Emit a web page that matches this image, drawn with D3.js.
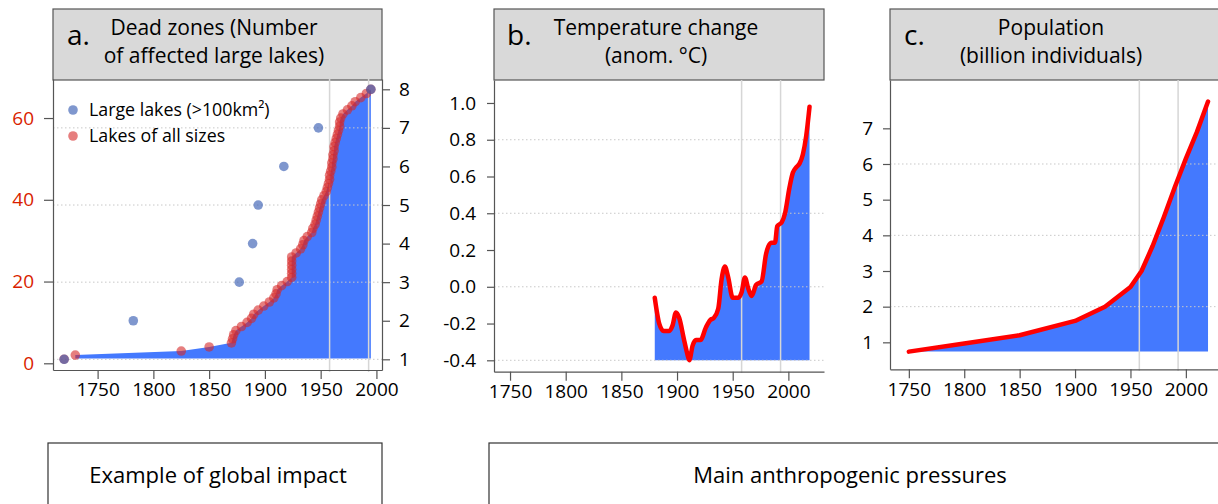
<!DOCTYPE html>
<html>
<head>
<meta charset="UTF-8">
<title>Dead zones and pressures</title>
<style>
  body { margin: 0; background: #fff; }
  svg { display: block; font-family: "Open Sans", Lato, sans-serif; }
</style>
</head>
<body>
<script src="https://cdn.jsdelivr.net/npm/d3@7"></script>
<script>
const width = 1218
const height = 504

// a. dead zones - large lakes (right axis)
const largeYears = [1720, 1782, 1877, 1889, 1894, 1917, 1948, 1995]
const largeCounts = [1, 2, 3, 4, 5, 6, 7, 8]

// a. dead zones - lakes of all sizes (left axis)
const allYears = [1720, 1730, 1825, 1850, 1870, 1871, 1872, 1874, 1879, 1884,
  1888, 1890, 1894, 1899, 1904, 1908, 1910, 1911, 1915, 1920,
  1924, 1924, 1924, 1924, 1924, 1924, 1928, 1932, 1934, 1935,
  1938, 1942, 1943, 1945, 1946, 1947, 1948, 1949, 1950, 1951,
  1953, 1955, 1956, 1957, 1958, 1958, 1959, 1960, 1960, 1961,
  1961, 1962, 1962, 1963, 1964, 1965, 1966, 1967, 1967, 1968,
  1970, 1974, 1978, 1981, 1986, 1991, 1995]
const allCounts = [1, 2, 3, 4, 5, 6, 7, 8, 9, 10,
  11, 12, 13, 14, 15, 16, 17, 18, 19, 20,
  21, 22, 23, 24, 25, 26, 27, 28, 29, 30,
  31, 32, 33, 34, 35, 36, 37, 38, 39, 40,
  41, 42, 43, 44, 45, 46, 47, 48, 49, 50,
  51, 52, 53, 54, 55, 56, 57, 58, 59, 60,
  61, 62, 63, 64, 65, 66, 67]

// b. temperature anomaly
const tempYears = [1880, 1884, 1888, 1893, 1896, 1899, 1902, 1906, 1909, 1911,
  1914, 1917, 1921, 1926, 1930, 1933, 1937, 1940, 1943, 1946,
  1950, 1955, 1958, 1961, 1964, 1967, 1971, 1976, 1980, 1982,
  1985, 1988, 1990, 1994, 1997, 2001, 2004, 2007, 2010, 2013,
  2016, 2019]
const tempValues = [-0.06, -0.20, -0.24, -0.24, -0.21, -0.14, -0.17, -0.28, -0.36, -0.40,
  -0.32, -0.29, -0.29, -0.22, -0.18, -0.17, -0.12, 0.04, 0.11, 0.05,
  -0.06, -0.06, -0.03, 0.05, -0.01, -0.05, 0.01, 0.03, 0.18, 0.22,
  0.24, 0.24, 0.33, 0.35, 0.40, 0.54, 0.62, 0.65, 0.67, 0.72,
  0.82, 0.98]

// c. population (billion)
const popYears = [1750, 1800, 1850, 1900, 1927, 1950, 1960, 1970, 1975, 1980, 1990, 2000, 2010, 2020]
const popValues = [0.74, 0.97, 1.2, 1.6, 2.0, 2.55, 3.0, 3.7, 4.1, 4.5, 5.35, 6.15, 6.9, 7.75]

const yearTicks = [1750, 1800, 1850, 1900, 1950, 2000]
const deadLeftTicks = [0, 20, 40, 60]
const deadRightTicks = [1, 2, 3, 4, 5, 6, 7, 8]
const tempTicks = [-0.4, -0.2, 0, 0.2, 0.4, 0.6, 0.8, 1.0]
const popTicks = [1, 2, 3, 4, 5, 6, 7]
const markYears = [1958, 1993]

const blue = '#4479fe'
const red = '#ff0000'
const font = '"Open Sans", Lato, sans-serif'

let svg = d3.select('body').append('svg')
  .attr('width', width)
  .attr('height', height)

// grey title box on top of each panel
function header(x0, x1, letter, letterX, lines, cx) {
  svg.append('rect')
    .attr('x', x0).attr('y', 9)
    .attr('width', x1 - x0).attr('height', 71)
    .attr('fill', '#d9d9d9').attr('stroke', '#555').attr('stroke-width', 1.2)
  svg.append('text').attr('x', letterX).attr('y', 45)
    .attr('font-size', 28).text(letter)
  lines.forEach((t, i) => {
    svg.append('text').attr('x', cx).attr('y', 35 + i * 28)
      .attr('text-anchor', 'middle').attr('font-size', 21).text(t)
  })
}

function styleAxis(g, color) {
  g.selectAll('path, line').attr('stroke', '#555').attr('stroke-width', 1.2)
  g.selectAll('text').attr('font-size', 19).attr('fill', color || '#000')
    .attr('font-family', font)
}

function grid(x0, x1, ys) {
  svg.append('g').selectAll('line').data(ys).enter().append('line')
    .attr('x1', x0).attr('x2', x1)
    .attr('y1', d => d).attr('y2', d => d)
    .attr('stroke', '#c8c8c8').attr('stroke-dasharray', '1.5,2.5')
}

function markLines(x, y0, y1) {
  svg.append('g').selectAll('line').data(markYears).enter().append('line')
    .attr('x1', d => x(d)).attr('x2', d => x(d))
    .attr('y1', y0).attr('y2', y1)
    .attr('stroke', '#d6d6d6').attr('stroke-width', 1.5)
}

// ---------- panel a ----------
let xa = d3.scaleLinear().domain([1710, 2005]).range([53, 382])
let yaL = d3.scaleLinear().domain([-1.64, 69.55]).range([370, 79])
let yaR = d3.scaleLinear().domain([0.723, 8.267]).range([370, 79])

header(53, 382, 'a.', 67, ['Dead zones (Number', 'of affected large lakes)'], 214)

let allPts = allYears.map((y, i) => ({ year: y, n: allCounts[i] }))
let largePts = largeYears.map((y, i) => ({ year: y, n: largeCounts[i] }))

let areaA = d3.area()
  .x(d => xa(d.year))
  .y0(yaL(1.2))
  .y1(d => yaL(d.n))
svg.append('path').datum(allPts.slice(1))
  .attr('d', areaA).attr('fill', blue)

grid(53, 382, [1, 3, 5, 7].map(v => yaR(v)))
markLines(xa, 79, 372)

svg.append('g').attr('transform', 'translate(0,370)')
  .call(d3.axisBottom(xa).tickValues(yearTicks).tickFormat(d3.format('d')).tickSize(9).tickSizeOuter(0).tickPadding(4))
  .call(g => styleAxis(g))
svg.append('g').attr('transform', 'translate(53,0)')
  .call(d3.axisLeft(yaL).tickValues(deadLeftTicks).tickSize(9).tickSizeOuter(0).tickPadding(10))
  .call(g => styleAxis(g, '#d91e00'))
svg.append('g').attr('transform', 'translate(382,0)')
  .call(d3.axisRight(yaR).tickValues(deadRightTicks).tickSize(8).tickSizeOuter(0).tickPadding(9))
  .call(g => styleAxis(g))

svg.append('g').selectAll('circle').data(allPts).enter().append('circle')
  .attr('cx', d => xa(d.year)).attr('cy', d => yaL(d.n)).attr('r', 4.8)
  .attr('fill', 'rgb(214,40,40)').attr('fill-opacity', 0.6)
svg.append('g').selectAll('circle').data(largePts).enter().append('circle')
  .attr('cx', d => xa(d.year)).attr('cy', d => yaR(d.n)).attr('r', 4.8)
  .attr('fill', 'rgb(58,95,180)').attr('fill-opacity', 0.65)

// legend
let legend = [
  { label: 'Large lakes (>100km²)', color: 'rgb(58,95,180)', op: 0.65 },
  { label: 'Lakes of all sizes', color: 'rgb(214,40,40)', op: 0.6 }
]
legend.forEach((d, i) => {
  svg.append('circle').attr('cx', 73).attr('cy', 110 + i * 26).attr('r', 4.8)
    .attr('fill', d.color).attr('fill-opacity', d.op)
  svg.append('text').attr('x', 89).attr('y', 116 + i * 26)
    .attr('font-size', 17.8).text(d.label)
})

// ---------- panel b ----------
let xb = d3.scaleLinear().domain([1735.6, 2032]).range([494, 824])
let yb = d3.scaleLinear().domain([-0.462, 1.125]).range([371.7, 80])

header(494, 824, 'b.', 507, ['Temperature change', '(anom. °C)'], 656)

let tempPts = tempYears.map((y, i) => ({ year: y, v: tempValues[i] }))
svg.append('path').datum(tempPts)
  .attr('d', d3.area().curve(d3.curveMonotoneX).x(d => xb(d.year)).y0(yb(-0.4)).y1(d => yb(d.v)))
  .attr('fill', blue)

grid(494, 824, [0.8, 0.4, 0, -0.4].map(v => yb(v)))
markLines(xb, 80, 373)

svg.append('g').attr('transform', 'translate(0,371.7)')
  .call(d3.axisBottom(xb).tickValues(yearTicks).tickFormat(d3.format('d')).tickSize(9).tickSizeOuter(0).tickPadding(4))
  .call(g => styleAxis(g))
svg.append('g').attr('transform', 'translate(494,0)')
  .call(d3.axisLeft(yb).tickValues(tempTicks).tickFormat(d => d.toFixed(1)).tickSize(7).tickSizeOuter(0).tickPadding(11))
  .call(g => styleAxis(g))

svg.append('path').datum(tempPts)
  .attr('d', d3.line().curve(d3.curveMonotoneX).x(d => xb(d.year)).y(d => yb(d.v)))
  .attr('fill', 'none').attr('stroke', red).attr('stroke-width', 4.5)
  .attr('stroke-linejoin', 'round').attr('stroke-linecap', 'round')

// ---------- panel c ----------
let xc = d3.scaleLinear().domain([1733, 2029]).range([890, 1218])
let yc = d3.scaleLinear().domain([0.244, 8.355]).range([369.3, 80])

header(890, 1224, 'c.', 904, ['Population', '(billion individuals)'], 1051)

let popPts = popYears.map((y, i) => ({ year: y, v: popValues[i] }))
svg.append('path').datum(popPts)
  .attr('d', d3.area().x(d => xc(d.year)).y0(yc(popValues[0])).y1(d => yc(d.v)))
  .attr('fill', blue)

grid(890, 1218, [6, 4, 2].map(v => yc(v)))
markLines(xc, 80, 371)

svg.append('g').attr('transform', 'translate(0,369.3)')
  .call(d3.axisBottom(xc).tickValues(yearTicks).tickFormat(d3.format('d')).tickSize(9).tickSizeOuter(0).tickPadding(4))
  .call(g => styleAxis(g))
svg.append('g').attr('transform', 'translate(890,0)')
  .call(d3.axisLeft(yc).tickValues(popTicks).tickSize(7).tickSizeOuter(0).tickPadding(10))
  .call(g => styleAxis(g))

svg.append('path').datum(popPts)
  .attr('d', d3.line().x(d => xc(d.year)).y(d => yc(d.v)))
  .attr('fill', 'none').attr('stroke', red).attr('stroke-width', 4.5)
  .attr('stroke-linejoin', 'round').attr('stroke-linecap', 'round')

// ---------- bottom boxes ----------
let boxes = [
  { x0: 48, x1: 382, label: 'Example of global impact', cx: 218 },
  { x0: 489, x1: 1230, label: 'Main anthropogenic pressures', cx: 850 }
]
boxes.forEach(b => {
  svg.append('rect').attr('x', b.x0).attr('y', 443)
    .attr('width', b.x1 - b.x0).attr('height', 80)
    .attr('fill', 'none').attr('stroke', '#333').attr('stroke-width', 1.2)
  svg.append('text').attr('x', b.cx).attr('y', 483)
    .attr('text-anchor', 'middle').attr('font-size', 22).text(b.label)
})
</script>
</body>
</html>
